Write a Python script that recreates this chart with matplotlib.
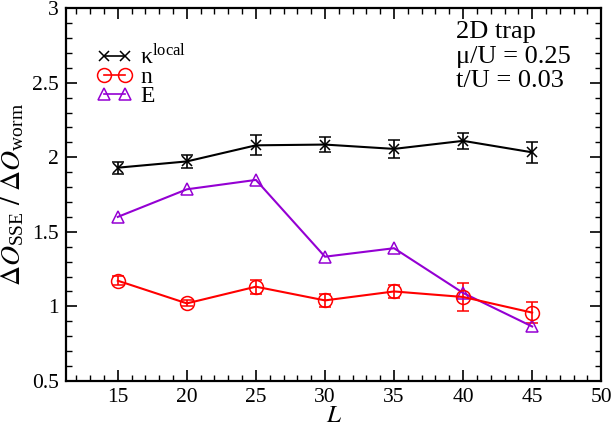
import matplotlib
matplotlib.use('Agg')
import matplotlib.pyplot as plt
from matplotlib.lines import Line2D
from matplotlib.ticker import MultipleLocator, FuncFormatter

# data
L_vals = [15, 20, 25, 30, 35, 40, 45]

kappa     = [1.93, 1.972, 2.08, 2.085, 2.056, 2.11, 2.033]
kappa_err = [0.04, 0.045, 0.066, 0.05, 0.062, 0.055, 0.07]

n_vals = [1.172, 1.02, 1.132, 1.04, 1.10, 1.063, 0.958]
n_err  = [0.03, 0.02, 0.047, 0.044, 0.044, 0.092, 0.069]

E_vals = [1.60, 1.785, 1.848, 1.333, 1.39, 1.09, 0.865]

plt.rcParams['font.family'] = ['Liberation Serif', 'DejaVu Serif']
plt.rcParams['mathtext.fontset'] = 'stix'

fig = plt.figure(figsize=(6.11, 4.28), dpi=100)
ax = fig.add_axes([0.108, 0.110, 0.876, 0.871])

purple = '#9400d3'
err_kw = dict(capsize=4, elinewidth=1.2, capthick=1.2, mew=1.1, lw=1.5)

ax.errorbar(L_vals, kappa, yerr=kappa_err, color='black', marker='x', ms=7, **err_kw)
ax.errorbar(L_vals, n_vals, yerr=n_err, color='red', marker='o', ms=10,
	mfc='none', **err_kw)
ax.plot(L_vals, E_vals, color=purple, marker='^', ms=9, mfc='none', mew=1.1, lw=1.5)

ax.set_xlim(11.25, 50)
ax.set_ylim(0.5, 3)
ax.xaxis.set_major_locator(MultipleLocator(5))
ax.xaxis.set_minor_locator(MultipleLocator(1))
ax.yaxis.set_major_locator(MultipleLocator(0.5))
ax.yaxis.set_minor_locator(MultipleLocator(0.1))
ax.yaxis.set_major_formatter(FuncFormatter(lambda v, p: '%g' % v))
ax.tick_params(which='both', direction='in', top=True, right=True, labelsize=15.5)
ax.tick_params(which='major', length=8, width=1.2, pad=5)
ax.tick_params(which='minor', length=4, width=1.0)
for s in ax.spines.values():
	s.set_linewidth(1.6)

ax.set_xlabel(r'$L$', fontsize=18, labelpad=-1)
ax.set_ylabel(r'$\Delta O_{\mathregular{SSE}}\ /\ \Delta O_{\mathregular{worm}}$',
	fontsize=20, labelpad=4)

handles = [
	Line2D([], [], color='black', marker='x', ms=7, mew=1.1, lw=1.2),
	Line2D([], [], color='red', marker='o', ms=10, mfc='none', mew=1.1, lw=1.2),
	Line2D([], [], color=purple, marker='^', ms=9, mfc='none', mew=1.1, lw=1.2),
]
labels = [r'$\mathregular{\kappa}^{\mathregular{local}}$', 'n', 'E']
ax.legend(handles, labels, loc='upper left', bbox_to_anchor=(0.035, 0.937), numpoints=2,
	frameon=False, fontsize=17, handlelength=1.5, handletextpad=0.35,
	labelspacing=-0.1, borderpad=0.0)

ax.text(0.728, 0.965, '2D trap\n\u03bc/U = 0.25\nt/U = 0.03', transform=ax.transAxes,
	fontsize=19, va='top', ha='left', linespacing=1.15)

fig.savefig('out.png', dpi=100)
